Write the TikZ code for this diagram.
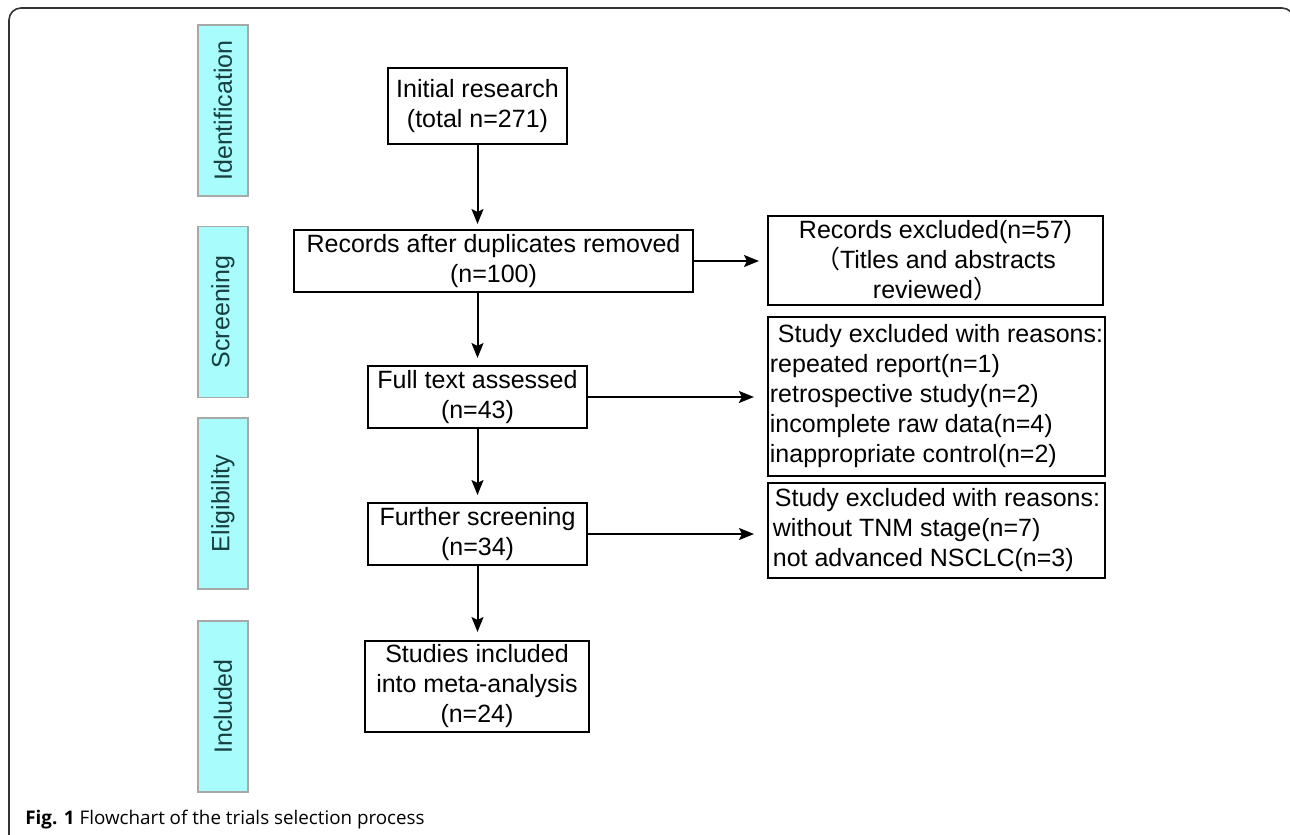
\documentclass[tikz,border=0pt]{standalone}
\usepackage{fontspec}
\setmainfont{Liberation Sans}
\newfontfamily\capfont{Open Sans}
\newfontfamily\cjk{Noto Sans CJK SC}
\usetikzlibrary{arrows.meta}
\definecolor{lab}{HTML}{173F3F}
\definecolor{cyanfill}{HTML}{A8FCFC}
\definecolor{cyanedge}{HTML}{A8A8A8}
\definecolor{frame}{HTML}{333333}
\begin{document}
\begin{tikzpicture}[x=0.5pt,y=-0.5pt,
 box/.style={draw=black, line width=1pt, inner sep=0pt, align=center, font=\fontsize{12.5}{15}\selectfont},
 lbox/.style={draw=black, line width=1pt, inner xsep=1pt, inner ysep=0pt, align=left, minimum width=168.5pt, font=\fontsize{12.5}{15}\selectfont},
 stage/.style={draw=cyanedge, fill=cyanfill, line width=0.6pt, minimum width=85.5pt, minimum height=25pt, inner sep=0pt, text=lab, font=\fontsize{12.5}{15}\selectfont, rotate=90},
 arr/.style={line width=1pt, -{Stealth[length=7.5pt,width=6pt,inset=1.5pt]}},
]
\useasboundingbox (0,0) rectangle (1290,835);
\begin{scope}
\clip (0,0) rectangle (1290,835);
\draw[line width=0.8pt, draw=frame, rounded corners=6pt] (9,840) -- (9,8) -- (1294,8) -- (1294,840);
\end{scope}

\node[stage] (s1) at (223,110.5) {Identification};
\node[stage] (s2) at (223,312) {Screening};
\node[stage] (s3) at (223,503.5) {Eligibility};
\node[stage] (s4) at (223,706.5) {Included};

\node[box, minimum width=89.5pt, minimum height=38pt] (init) at (477.5,106) {Initial research\\(total n=271)};
\node[box, minimum width=199.5pt, minimum height=31pt] (rec) at (493.5,261) {Records after duplicates removed\\(n=100)};
\node[box, minimum width=167.5pt, minimum height=44.5pt] (ex1) at (935.5,260.5) {Records excluded(n=57)\\{\cjk （}Titles and abstracts\\reviewed{\cjk ）}};
\node[box, minimum width=109.5pt, minimum height=31pt] (full) at (477.5,397) {Full text assessed\\(n=43)};
\node[lbox, minimum height=79.5pt] (ex2) at (936.5,396.5) {\hspace*{4pt}Study excluded with reasons:\\repeated report(n=1)\\retrospective study(n=2)\\incomplete raw data(n=4)\\inappropriate control(n=2)};
\node[box, minimum width=109.5pt, minimum height=31pt] (fur) at (477.5,534) {Further screening\\(n=34)};
\node[lbox, minimum height=47.5pt] (ex3) at (936.5,530.5) {\hspace*{1pt}Study excluded with reasons:\\without TNM stage(n=7)\\not advanced NSCLC(n=3)};
\node[box, minimum width=112pt, minimum height=45.5pt] (inc) at (477,686.5) {Studies included\\into meta-analysis\\(n=24)};

\draw[arr, shorten >=2.5pt] (init.south) -- (init.south |- rec.north);
\draw[arr, shorten >=3.5pt] (full.north |- rec.south) -- (full.north);
\draw[arr, shorten >=3.5pt] (full.south) -- (fur.north);
\draw[arr, shorten >=4pt] (fur.south) -- (fur.south |- inc.north);
\draw[arr, shorten >=4pt] (rec.east) -- (rec.east -| ex1.west);
\draw[arr, shorten >=6.5pt] (full.east) -- (full.east -| ex2.west);
\draw[arr, shorten >=6.5pt] (fur.east) -- (fur.east -| ex3.west);

\node[anchor=base west, font=\capfont\fontsize{9.4}{11}\selectfont, inner sep=0pt] (cap) at (25,824) {\textbf{Fig. 1} Flowchart of the trials selection process};
\end{tikzpicture}
\end{document}
